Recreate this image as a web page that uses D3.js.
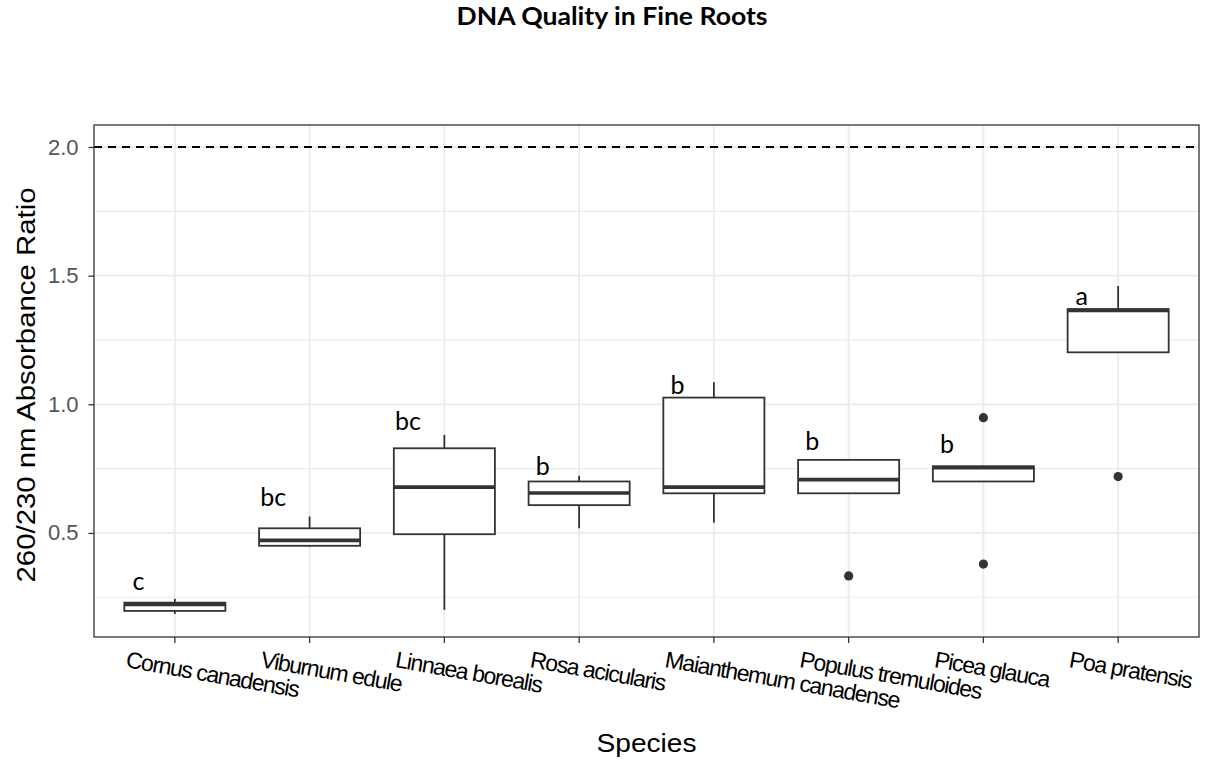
<!DOCTYPE html>
<html>
<head>
<meta charset="utf-8">
<script src="https://cdn.jsdelivr.net/npm/d3@7"></script>
<style>
body { margin: 0; background: #fff; }
</style>
</head>
<body>
<div id="chart"></div>
<script>
// values
var species = ["Cornus canadensis", "Viburnum edule", "Linnaea borealis", "Rosa acicularis",
               "Maianthemum canadense", "Populus tremuloides", "Picea glauca", "Poa pratensis"];
var whiskerLow  = [0.185, 0.447, 0.201, 0.518, 0.540, 0.654, 0.700, 1.202];
var q1          = [0.197, 0.450, 0.495, 0.608, 0.654, 0.654, 0.700, 1.202];
var median      = [0.222, 0.471, 0.678, 0.655, 0.678, 0.707, 0.754, 1.365];
var q3          = [0.229, 0.518, 0.829, 0.700, 1.026, 0.784, 0.759, 1.370];
var whiskerHigh = [0.244, 0.564, 0.881, 0.722, 1.086, 0.784, 0.759, 1.460];
var outliers    = [[], [], [], [], [], [0.333], [0.948, 0.379], [0.719]];
var groupLetters = ["c", "bc", "bc", "b", "b", "b", "b", "a"];
var letterY      = [0.279, 0.605, 0.900, 0.726, 1.040, 0.823, 0.811, 1.386];
var yTicks = [0.5, 1.0, 1.5, 2.0];
var yMinor = [0.25, 0.75, 1.25, 1.75];
var refLine = 2.0;

var width = 1221, height = 763;
var margin = {top: 125, right: 22, bottom: 126, left: 94};
var innerW = width - margin.left - margin.right;
var innerH = height - margin.top - margin.bottom;

var svg = d3.select("#chart").append("svg")
    .attr("width", width)
    .attr("height", height)
    .style("font-family", "'Liberation Sans', Arial, sans-serif");

var g = svg.append("g").attr("transform", "translate(" + margin.left + "," + margin.top + ")");

var x = d3.scaleBand().domain(species).range([0, innerW]).paddingOuter(0.1).paddingInner(0);
var step = x.step();
var boxW = step * 0.75;
var cx = function(s) { return x(s) + step / 2; };

var y = d3.scaleLinear().domain([0.0955, 2.0855]).range([innerH, 0]);

// grid
g.selectAll(".minor").data(yMinor).enter().append("line")
    .attr("x1", 0).attr("x2", innerW)
    .attr("y1", function(d) { return y(d); }).attr("y2", function(d) { return y(d); })
    .attr("stroke", "#ebebeb").attr("stroke-width", 1.2);
g.selectAll(".major").data(yTicks).enter().append("line")
    .attr("x1", 0).attr("x2", innerW)
    .attr("y1", function(d) { return y(d); }).attr("y2", function(d) { return y(d); })
    .attr("stroke", "#ebebeb").attr("stroke-width", 1.8);
g.selectAll(".vgrid").data(species).enter().append("line")
    .attr("x1", cx).attr("x2", cx)
    .attr("y1", 0).attr("y2", innerH)
    .attr("stroke", "#ebebeb").attr("stroke-width", 1.8);

// boxes
var boxes = g.selectAll(".box").data(species).enter().append("g");
boxes.append("line")
    .attr("x1", cx).attr("x2", cx)
    .attr("y1", function(d, i) { return y(whiskerHigh[i]); })
    .attr("y2", function(d, i) { return y(q3[i]); })
    .attr("stroke", "#333").attr("stroke-width", 1.8);
boxes.append("line")
    .attr("x1", cx).attr("x2", cx)
    .attr("y1", function(d, i) { return y(q1[i]); })
    .attr("y2", function(d, i) { return y(whiskerLow[i]); })
    .attr("stroke", "#333").attr("stroke-width", 1.8);
boxes.append("rect")
    .attr("x", function(d) { return cx(d) - boxW / 2; })
    .attr("width", boxW)
    .attr("y", function(d, i) { return y(q3[i]); })
    .attr("height", function(d, i) { return y(q1[i]) - y(q3[i]); })
    .attr("fill", "#fff").attr("stroke", "#333").attr("stroke-width", 1.8);
boxes.append("line")
    .attr("x1", function(d) { return cx(d) - boxW / 2; })
    .attr("x2", function(d) { return cx(d) + boxW / 2; })
    .attr("y1", function(d, i) { return y(median[i]); })
    .attr("y2", function(d, i) { return y(median[i]); })
    .attr("stroke", "#333").attr("stroke-width", 3.6);

// outliers
species.forEach(function(s, i) {
    g.selectAll(".out" + i).data(outliers[i]).enter().append("circle")
        .attr("cx", cx(s))
        .attr("cy", function(d) { return y(d); })
        .attr("r", 4.6)
        .attr("fill", "#333");
});

// significance letters
g.selectAll(".letter").data(species).enter().append("text")
    .attr("x", function(d) { return cx(d) - step * 0.27; })
    .attr("y", function(d, i) { return y(letterY[i]); })
    .attr("text-anchor", "middle")
    .style("font-family", "Lato, 'Open Sans', sans-serif")
    .style("font-size", "25px")
    .attr("fill", "#000")
    .text(function(d, i) { return groupLetters[i]; });

// dashed reference line
g.append("line")
    .attr("x1", 0).attr("x2", innerW)
    .attr("y1", y(refLine)).attr("y2", y(refLine))
    .attr("stroke", "#000").attr("stroke-width", 2)
    .attr("stroke-dasharray", "8,6");

// panel border
g.append("rect")
    .attr("width", innerW).attr("height", innerH)
    .attr("fill", "none").attr("stroke", "#333").attr("stroke-width", 1.3);

// y axis
var yAxis = g.append("g").call(d3.axisLeft(y).tickValues(yTicks).tickFormat(d3.format(".1f")).tickSize(5.5).tickPadding(10));
yAxis.select(".domain").remove();
yAxis.selectAll("line").attr("stroke", "#333").attr("stroke-width", 1.3);
yAxis.selectAll("text").attr("fill", "#555")
    .style("font-size", "22px").style("font-family", "'Liberation Sans', Arial, sans-serif");

// x axis
var xAxis = g.append("g").attr("transform", "translate(0," + innerH + ")")
    .call(d3.axisBottom(x).tickSize(6).tickFormat(""));
xAxis.select(".domain").remove();
xAxis.selectAll("line").attr("stroke", "#333").attr("stroke-width", 1.3);

g.selectAll(".xlab").data(species).enter().append("text")
    .attr("transform", function(d) {
        return "translate(" + (cx(d) - step * 0.37) + "," + (innerH + 30) + ") rotate(10)";
    })
    .attr("text-anchor", "start")
    .style("font-size", "23px")
    .style("letter-spacing", "-1.3px")
    .attr("fill", "#000")
    .text(function(d) { return d; });

// titles
svg.append("text")
    .attr("x", margin.left + innerW / 2).attr("y", 752)
    .attr("text-anchor", "middle")
    .attr("textLength", 100).attr("lengthAdjust", "spacingAndGlyphs")
    .style("font-size", "25px")
    .text("Species");

svg.append("text")
    .attr("transform", "translate(35," + (margin.top + innerH / 2 + 4) + ") rotate(-90)")
    .attr("text-anchor", "middle")
    .attr("textLength", 395).attr("lengthAdjust", "spacingAndGlyphs")
    .style("font-size", "25px")
    .text("260/230 nm Absorbance Ratio");

svg.append("text")
    .attr("x", 612).attr("y", 25)
    .attr("text-anchor", "middle")
    .attr("textLength", 311).attr("lengthAdjust", "spacingAndGlyphs")
    .style("font-family", "Lato, 'Open Sans', sans-serif")
    .style("font-weight", "bold")
    .style("font-size", "25px")
    .text("DNA Quality in Fine Roots");
</script>
</body>
</html>
